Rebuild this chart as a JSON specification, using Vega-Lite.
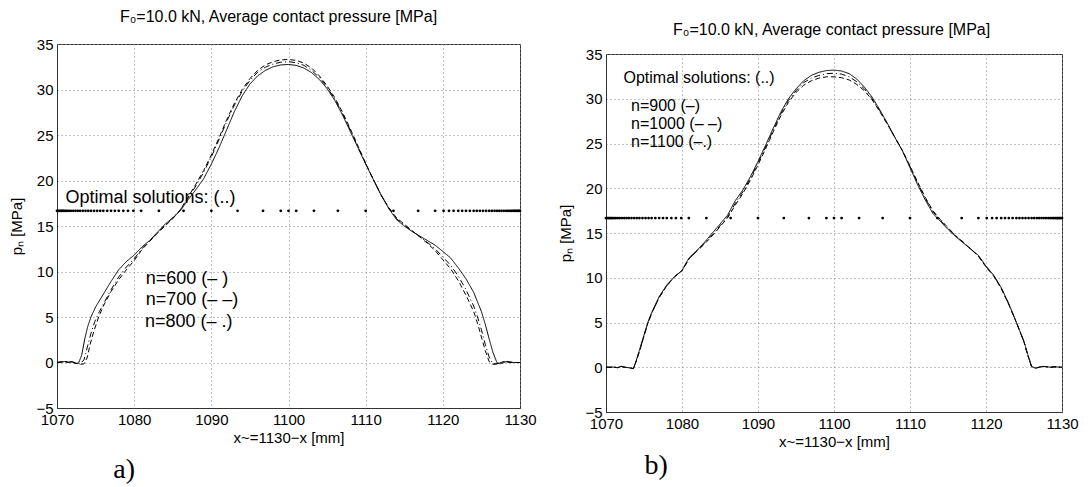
{
  "$schema": "https://vega.github.io/schema/vega-lite/v6.json",
  "background": "white",
  "padding": {"left": 9, "top": 8, "right": 5, "bottom": 5},
  "spacing": 21,
  "config": {
    "font": "Liberation Sans",
    "view": {"stroke": "#333", "strokeWidth": 1},
    "axis": {
      "labelFont": "Liberation Sans", "titleFont": "Liberation Sans",
      "labelFontSize": 15, "titleFontSize": 15, "titleFontWeight": "normal",
      "labelColor": "black", "titleColor": "black",
      "domainColor": "#333", "ticks": false, "labelPadding": 4,
      "grid": true, "gridColor": "#888", "gridDash": [1, 3], "gridWidth": 1
    },
    "title": {"font": "Liberation Sans", "fontSize": 16, "fontWeight": "normal", "color": "black"}
  },
  "datasets": {
    "a_lines": [
      {"n":"600","x":1070,"p":0},{"n":"600","x":1070.5,"p":0.05},{"n":"600","x":1071,"p":0.1},{"n":"600","x":1071.5,"p":0.05},{"n":"600","x":1072,"p":0.1},{"n":"600","x":1072.4,"p":-0.1},{"n":"600","x":1072.8,"p":-0.05},{"n":"600","x":1073.2,"p":0.8},{"n":"600","x":1073.6,"p":2.6},{"n":"600","x":1074,"p":4.0},{"n":"600","x":1074.4,"p":5.0},{"n":"600","x":1075,"p":6.1},{"n":"600","x":1076,"p":7.5},{"n":"600","x":1077,"p":8.9},{"n":"600","x":1078,"p":10.2},{"n":"600","x":1079,"p":11.1},{"n":"600","x":1080,"p":11.8},{"n":"600","x":1081,"p":12.7},{"n":"600","x":1082,"p":13.4},{"n":"600","x":1083,"p":14.3},{"n":"600","x":1084,"p":15.2},{"n":"600","x":1085,"p":15.9},{"n":"600","x":1086,"p":16.7},{"n":"600","x":1087,"p":17.9},{"n":"600","x":1088,"p":19.0},{"n":"600","x":1089,"p":20.2},{"n":"600","x":1090,"p":21.8},{"n":"600","x":1091,"p":23.6},{"n":"600","x":1092,"p":25.6},{"n":"600","x":1093,"p":27.6},{"n":"600","x":1094,"p":29.3},{"n":"600","x":1095,"p":30.6},{"n":"600","x":1096,"p":31.5},{"n":"600","x":1097,"p":32.1},{"n":"600","x":1098,"p":32.5},{"n":"600","x":1099,"p":32.7},{"n":"600","x":1100,"p":32.75},{"n":"600","x":1101,"p":32.65},{"n":"600","x":1102,"p":32.35},{"n":"600","x":1103,"p":31.85},{"n":"600","x":1104,"p":31.1},{"n":"600","x":1105,"p":30.1},{"n":"600","x":1106,"p":28.8},{"n":"600","x":1107,"p":27.2},{"n":"600","x":1108,"p":25.4},{"n":"600","x":1109,"p":23.6},{"n":"600","x":1110,"p":21.8},{"n":"600","x":1111,"p":20.1},{"n":"600","x":1112,"p":18.4},{"n":"600","x":1113,"p":16.9},{"n":"600","x":1114,"p":15.7},{"n":"600","x":1115,"p":15.0},{"n":"600","x":1116,"p":14.4},{"n":"600","x":1117,"p":13.9},{"n":"600","x":1118,"p":13.4},{"n":"600","x":1119,"p":12.9},{"n":"600","x":1120,"p":12.2},{"n":"600","x":1121,"p":11.5},{"n":"600","x":1122,"p":10.4},{"n":"600","x":1123,"p":9.2},{"n":"600","x":1124,"p":7.7},{"n":"600","x":1125,"p":5.6},{"n":"600","x":1125.5,"p":4.2},{"n":"600","x":1126,"p":2.6},{"n":"600","x":1126.5,"p":1.1},{"n":"600","x":1127,"p":0},{"n":"600","x":1127.4,"p":-0.15},{"n":"600","x":1127.8,"p":-0.05},{"n":"600","x":1128.2,"p":0.1},{"n":"600","x":1128.7,"p":0.05},{"n":"600","x":1129.2,"p":0},{"n":"600","x":1130,"p":0},
      {"n":"700","x":1070,"p":0},{"n":"700","x":1070.5,"p":0.05},{"n":"700","x":1071,"p":0.1},{"n":"700","x":1071.5,"p":0},{"n":"700","x":1072,"p":0.05},{"n":"700","x":1072.5,"p":-0.1},{"n":"700","x":1073,"p":-0.2},{"n":"700","x":1073.5,"p":-0.15},{"n":"700","x":1073.9,"p":0.5},{"n":"700","x":1074.3,"p":2.0},{"n":"700","x":1074.8,"p":3.5},{"n":"700","x":1075.4,"p":5.0},{"n":"700","x":1076,"p":6.2},{"n":"700","x":1077,"p":7.8},{"n":"700","x":1078,"p":9.1},{"n":"700","x":1079,"p":10.2},{"n":"700","x":1080,"p":11.2},{"n":"700","x":1081,"p":12.4},{"n":"700","x":1082,"p":13.3},{"n":"700","x":1083,"p":14.2},{"n":"700","x":1084,"p":15.0},{"n":"700","x":1085,"p":15.8},{"n":"700","x":1086,"p":16.8},{"n":"700","x":1087,"p":18.2},{"n":"700","x":1088,"p":19.6},{"n":"700","x":1089,"p":21.1},{"n":"700","x":1090,"p":22.8},{"n":"700","x":1091,"p":24.7},{"n":"700","x":1092,"p":26.7},{"n":"700","x":1093,"p":28.5},{"n":"700","x":1094,"p":30.0},{"n":"700","x":1095,"p":31.2},{"n":"700","x":1096,"p":32.1},{"n":"700","x":1097,"p":32.7},{"n":"700","x":1098,"p":33.05},{"n":"700","x":1099,"p":33.25},{"n":"700","x":1100,"p":33.3},{"n":"700","x":1101,"p":33.2},{"n":"700","x":1102,"p":32.9},{"n":"700","x":1103,"p":32.35},{"n":"700","x":1104,"p":31.5},{"n":"700","x":1105,"p":30.4},{"n":"700","x":1106,"p":29.1},{"n":"700","x":1107,"p":27.5},{"n":"700","x":1108,"p":25.7},{"n":"700","x":1109,"p":23.8},{"n":"700","x":1110,"p":21.9},{"n":"700","x":1111,"p":20.1},{"n":"700","x":1112,"p":18.4},{"n":"700","x":1113,"p":17.0},{"n":"700","x":1114,"p":15.9},{"n":"700","x":1115,"p":15.2},{"n":"700","x":1116,"p":14.5},{"n":"700","x":1117,"p":13.8},{"n":"700","x":1118,"p":13.1},{"n":"700","x":1119,"p":12.3},{"n":"700","x":1120,"p":11.3},{"n":"700","x":1121,"p":10.3},{"n":"700","x":1122,"p":9.0},{"n":"700","x":1123,"p":7.4},{"n":"700","x":1124,"p":5.6},{"n":"700","x":1124.5,"p":4.3},{"n":"700","x":1125,"p":2.8},{"n":"700","x":1125.5,"p":1.3},{"n":"700","x":1126,"p":0.1},{"n":"700","x":1126.5,"p":-0.2},{"n":"700","x":1127,"p":-0.15},{"n":"700","x":1127.5,"p":0},{"n":"700","x":1128,"p":0.1},{"n":"700","x":1128.5,"p":0.05},{"n":"700","x":1129,"p":0},{"n":"700","x":1130,"p":0},
      {"n":"800","x":1070,"p":0},{"n":"800","x":1070.5,"p":0.05},{"n":"800","x":1071,"p":0.1},{"n":"800","x":1071.5,"p":0.05},{"n":"800","x":1072,"p":0.05},{"n":"800","x":1072.5,"p":-0.1},{"n":"800","x":1073,"p":-0.15},{"n":"800","x":1073.5,"p":0.3},{"n":"800","x":1073.9,"p":1.6},{"n":"800","x":1074.4,"p":3.2},{"n":"800","x":1074.9,"p":4.5},{"n":"800","x":1075.5,"p":5.6},{"n":"800","x":1076,"p":6.4},{"n":"800","x":1077,"p":8.0},{"n":"800","x":1078,"p":9.4},{"n":"800","x":1079,"p":10.5},{"n":"800","x":1080,"p":11.4},{"n":"800","x":1081,"p":12.5},{"n":"800","x":1082,"p":13.4},{"n":"800","x":1083,"p":14.2},{"n":"800","x":1084,"p":15.1},{"n":"800","x":1085,"p":15.9},{"n":"800","x":1086,"p":16.8},{"n":"800","x":1087,"p":18.1},{"n":"800","x":1088,"p":19.4},{"n":"800","x":1089,"p":20.9},{"n":"800","x":1090,"p":22.6},{"n":"800","x":1091,"p":24.5},{"n":"800","x":1092,"p":26.5},{"n":"800","x":1093,"p":28.3},{"n":"800","x":1094,"p":29.8},{"n":"800","x":1095,"p":31.0},{"n":"800","x":1096,"p":31.9},{"n":"800","x":1097,"p":32.45},{"n":"800","x":1098,"p":32.8},{"n":"800","x":1099,"p":33.0},{"n":"800","x":1100,"p":33.05},{"n":"800","x":1101,"p":32.95},{"n":"800","x":1102,"p":32.65},{"n":"800","x":1103,"p":32.1},{"n":"800","x":1104,"p":31.3},{"n":"800","x":1105,"p":30.25},{"n":"800","x":1106,"p":28.95},{"n":"800","x":1107,"p":27.35},{"n":"800","x":1108,"p":25.55},{"n":"800","x":1109,"p":23.7},{"n":"800","x":1110,"p":21.85},{"n":"800","x":1111,"p":20.1},{"n":"800","x":1112,"p":18.4},{"n":"800","x":1113,"p":17.0},{"n":"800","x":1114,"p":15.8},{"n":"800","x":1115,"p":15.1},{"n":"800","x":1116,"p":14.45},{"n":"800","x":1117,"p":13.85},{"n":"800","x":1118,"p":13.2},{"n":"800","x":1119,"p":12.5},{"n":"800","x":1120,"p":11.6},{"n":"800","x":1121,"p":10.7},{"n":"800","x":1122,"p":9.5},{"n":"800","x":1123,"p":8.0},{"n":"800","x":1124,"p":6.2},{"n":"800","x":1124.5,"p":5.0},{"n":"800","x":1125,"p":3.6},{"n":"800","x":1125.5,"p":2.0},{"n":"800","x":1126,"p":0.6},{"n":"800","x":1126.5,"p":-0.15},{"n":"800","x":1127,"p":-0.15},{"n":"800","x":1127.5,"p":0},{"n":"800","x":1128,"p":0.1},{"n":"800","x":1128.5,"p":0.05},{"n":"800","x":1129,"p":0},{"n":"800","x":1130,"p":0}
    ],
    "b_lines": [
      {"n":"900","x":1070,"p":0},{"n":"900","x":1070.5,"p":0},{"n":"900","x":1071,"p":0.02},{"n":"900","x":1071.5,"p":-0.05},{"n":"900","x":1072,"p":0.1},{"n":"900","x":1072.5,"p":0},{"n":"900","x":1073,"p":-0.05},{"n":"900","x":1073.6,"p":-0.15},{"n":"900","x":1074,"p":0.8},{"n":"900","x":1074.5,"p":2.2},{"n":"900","x":1075,"p":3.6},{"n":"900","x":1075.5,"p":5.0},{"n":"900","x":1076,"p":6.1},{"n":"900","x":1077,"p":7.9},{"n":"900","x":1078,"p":9.2},{"n":"900","x":1079,"p":10.1},{"n":"900","x":1080,"p":10.8},{"n":"900","x":1080.5,"p":11.6},{"n":"900","x":1081,"p":12.3},{"n":"900","x":1082,"p":13.1},{"n":"900","x":1083,"p":14.0},{"n":"900","x":1084,"p":15.0},{"n":"900","x":1085,"p":16.0},{"n":"900","x":1086,"p":17.0},{"n":"900","x":1087,"p":18.6},{"n":"900","x":1088,"p":19.8},{"n":"900","x":1089,"p":21.3},{"n":"900","x":1090,"p":23.0},{"n":"900","x":1091,"p":24.8},{"n":"900","x":1092,"p":26.7},{"n":"900","x":1093,"p":28.5},{"n":"900","x":1094,"p":30.0},{"n":"900","x":1095,"p":31.1},{"n":"900","x":1096,"p":32.0},{"n":"900","x":1097,"p":32.6},{"n":"900","x":1098,"p":32.95},{"n":"900","x":1099,"p":33.15},{"n":"900","x":1100,"p":33.2},{"n":"900","x":1101,"p":33.1},{"n":"900","x":1102,"p":32.8},{"n":"900","x":1103,"p":32.2},{"n":"900","x":1104,"p":31.3},{"n":"900","x":1105,"p":30.2},{"n":"900","x":1106,"p":28.8},{"n":"900","x":1107,"p":27.3},{"n":"900","x":1108,"p":25.7},{"n":"900","x":1109,"p":24.2},{"n":"900","x":1110,"p":22.3},{"n":"900","x":1111,"p":20.4},{"n":"900","x":1112,"p":18.7},{"n":"900","x":1113,"p":17.2},{"n":"900","x":1114,"p":16.3},{"n":"900","x":1115,"p":15.4},{"n":"900","x":1116,"p":14.6},{"n":"900","x":1117,"p":13.9},{"n":"900","x":1118,"p":13.2},{"n":"900","x":1119,"p":12.5},{"n":"900","x":1120,"p":11.3},{"n":"900","x":1121,"p":10.3},{"n":"900","x":1122,"p":8.9},{"n":"900","x":1123,"p":7.1},{"n":"900","x":1124,"p":5.0},{"n":"900","x":1125,"p":2.9},{"n":"900","x":1125.5,"p":1.4},{"n":"900","x":1126,"p":0.1},{"n":"900","x":1126.5,"p":-0.1},{"n":"900","x":1127,"p":0},{"n":"900","x":1127.5,"p":0.1},{"n":"900","x":1128,"p":0.05},{"n":"900","x":1128.5,"p":0},{"n":"900","x":1129,"p":0.05},{"n":"900","x":1130,"p":0},
      {"n":"1000","x":1070,"p":0},{"n":"1000","x":1070.5,"p":0},{"n":"1000","x":1071,"p":0.02},{"n":"1000","x":1071.5,"p":-0.05},{"n":"1000","x":1072,"p":0.1},{"n":"1000","x":1072.5,"p":0},{"n":"1000","x":1073,"p":-0.05},{"n":"1000","x":1073.6,"p":-0.15},{"n":"1000","x":1074,"p":0.7},{"n":"1000","x":1074.5,"p":2.0},{"n":"1000","x":1075,"p":3.5},{"n":"1000","x":1075.5,"p":4.9},{"n":"1000","x":1076,"p":6.0},{"n":"1000","x":1077,"p":7.8},{"n":"1000","x":1078,"p":9.1},{"n":"1000","x":1079,"p":10.1},{"n":"1000","x":1080,"p":10.8},{"n":"1000","x":1080.5,"p":11.5},{"n":"1000","x":1081,"p":12.2},{"n":"1000","x":1082,"p":13.0},{"n":"1000","x":1083,"p":13.8},{"n":"1000","x":1084,"p":14.7},{"n":"1000","x":1085,"p":15.7},{"n":"1000","x":1086,"p":16.7},{"n":"1000","x":1087,"p":18.1},{"n":"1000","x":1088,"p":19.4},{"n":"1000","x":1089,"p":20.9},{"n":"1000","x":1090,"p":22.6},{"n":"1000","x":1091,"p":24.4},{"n":"1000","x":1092,"p":26.3},{"n":"1000","x":1093,"p":28.1},{"n":"1000","x":1094,"p":29.6},{"n":"1000","x":1095,"p":30.7},{"n":"1000","x":1096,"p":31.5},{"n":"1000","x":1097,"p":32.0},{"n":"1000","x":1098,"p":32.3},{"n":"1000","x":1099,"p":32.45},{"n":"1000","x":1100,"p":32.45},{"n":"1000","x":1101,"p":32.35},{"n":"1000","x":1102,"p":32.1},{"n":"1000","x":1103,"p":31.6},{"n":"1000","x":1104,"p":30.9},{"n":"1000","x":1105,"p":29.9},{"n":"1000","x":1106,"p":28.6},{"n":"1000","x":1107,"p":27.2},{"n":"1000","x":1108,"p":25.7},{"n":"1000","x":1109,"p":24.2},{"n":"1000","x":1110,"p":22.5},{"n":"1000","x":1111,"p":20.7},{"n":"1000","x":1112,"p":19.0},{"n":"1000","x":1113,"p":17.5},{"n":"1000","x":1114,"p":16.5},{"n":"1000","x":1115,"p":15.6},{"n":"1000","x":1116,"p":14.7},{"n":"1000","x":1117,"p":14.0},{"n":"1000","x":1118,"p":13.2},{"n":"1000","x":1119,"p":12.4},{"n":"1000","x":1120,"p":11.2},{"n":"1000","x":1121,"p":10.2},{"n":"1000","x":1122,"p":8.8},{"n":"1000","x":1123,"p":7.0},{"n":"1000","x":1124,"p":5.0},{"n":"1000","x":1125,"p":2.8},{"n":"1000","x":1125.5,"p":1.3},{"n":"1000","x":1126,"p":0.05},{"n":"1000","x":1126.5,"p":-0.1},{"n":"1000","x":1127,"p":0},{"n":"1000","x":1127.5,"p":0.1},{"n":"1000","x":1128,"p":0.05},{"n":"1000","x":1128.5,"p":0},{"n":"1000","x":1129,"p":0.05},{"n":"1000","x":1130,"p":0},
      {"n":"1100","x":1070,"p":0},{"n":"1100","x":1070.5,"p":0},{"n":"1100","x":1071,"p":0.02},{"n":"1100","x":1071.5,"p":-0.05},{"n":"1100","x":1072,"p":0.1},{"n":"1100","x":1072.5,"p":0},{"n":"1100","x":1073,"p":-0.05},{"n":"1100","x":1073.6,"p":-0.15},{"n":"1100","x":1074,"p":0.75},{"n":"1100","x":1074.5,"p":2.1},{"n":"1100","x":1075,"p":3.5},{"n":"1100","x":1075.5,"p":4.9},{"n":"1100","x":1076,"p":6.0},{"n":"1100","x":1077,"p":7.8},{"n":"1100","x":1078,"p":9.1},{"n":"1100","x":1079,"p":10.1},{"n":"1100","x":1080,"p":10.8},{"n":"1100","x":1080.5,"p":11.5},{"n":"1100","x":1081,"p":12.2},{"n":"1100","x":1082,"p":13.0},{"n":"1100","x":1083,"p":13.9},{"n":"1100","x":1084,"p":14.8},{"n":"1100","x":1085,"p":15.8},{"n":"1100","x":1086,"p":16.8},{"n":"1100","x":1087,"p":18.3},{"n":"1100","x":1088,"p":19.6},{"n":"1100","x":1089,"p":21.1},{"n":"1100","x":1090,"p":22.8},{"n":"1100","x":1091,"p":24.6},{"n":"1100","x":1092,"p":26.5},{"n":"1100","x":1093,"p":28.3},{"n":"1100","x":1094,"p":29.8},{"n":"1100","x":1095,"p":30.9},{"n":"1100","x":1096,"p":31.8},{"n":"1100","x":1097,"p":32.3},{"n":"1100","x":1098,"p":32.6},{"n":"1100","x":1099,"p":32.8},{"n":"1100","x":1100,"p":32.85},{"n":"1100","x":1101,"p":32.75},{"n":"1100","x":1102,"p":32.45},{"n":"1100","x":1103,"p":31.9},{"n":"1100","x":1104,"p":31.1},{"n":"1100","x":1105,"p":30.0},{"n":"1100","x":1106,"p":28.7},{"n":"1100","x":1107,"p":27.2},{"n":"1100","x":1108,"p":25.7},{"n":"1100","x":1109,"p":24.2},{"n":"1100","x":1110,"p":22.4},{"n":"1100","x":1111,"p":20.6},{"n":"1100","x":1112,"p":18.9},{"n":"1100","x":1113,"p":17.4},{"n":"1100","x":1114,"p":16.4},{"n":"1100","x":1115,"p":15.5},{"n":"1100","x":1116,"p":14.7},{"n":"1100","x":1117,"p":13.95},{"n":"1100","x":1118,"p":13.2},{"n":"1100","x":1119,"p":12.45},{"n":"1100","x":1120,"p":11.25},{"n":"1100","x":1121,"p":10.25},{"n":"1100","x":1122,"p":8.85},{"n":"1100","x":1123,"p":7.05},{"n":"1100","x":1124,"p":5.0},{"n":"1100","x":1125,"p":2.85},{"n":"1100","x":1125.5,"p":1.35},{"n":"1100","x":1126,"p":0.05},{"n":"1100","x":1126.5,"p":-0.1},{"n":"1100","x":1127,"p":0},{"n":"1100","x":1127.5,"p":0.1},{"n":"1100","x":1128,"p":0.05},{"n":"1100","x":1128.5,"p":0},{"n":"1100","x":1129,"p":0.05},{"n":"1100","x":1130,"p":0}
    ],
    "dots": [
      {"x":1070,"p":16.67},{"x":1070.15,"p":16.67},{"x":1070.3,"p":16.67},{"x":1070.45,"p":16.67},{"x":1070.6,"p":16.67},{"x":1070.75,"p":16.67},{"x":1070.9,"p":16.67},{"x":1071.1,"p":16.67},{"x":1071.3,"p":16.67},{"x":1071.55,"p":16.67},{"x":1071.8,"p":16.67},{"x":1072.1,"p":16.67},{"x":1072.4,"p":16.67},{"x":1072.7,"p":16.67},{"x":1073.0,"p":16.67},{"x":1073.35,"p":16.67},{"x":1073.7,"p":16.67},{"x":1074.05,"p":16.67},{"x":1074.4,"p":16.67},{"x":1074.8,"p":16.67},{"x":1075.2,"p":16.67},{"x":1075.6,"p":16.67},{"x":1076.0,"p":16.67},{"x":1076.5,"p":16.67},{"x":1077.0,"p":16.67},{"x":1077.5,"p":16.67},{"x":1078.0,"p":16.67},{"x":1078.6,"p":16.67},{"x":1079.2,"p":16.67},{"x":1079.9,"p":16.67},{"x":1080.9,"p":16.67},{"x":1083.2,"p":16.67},{"x":1086.4,"p":16.67},{"x":1090.0,"p":16.67},{"x":1093.4,"p":16.67},{"x":1096.7,"p":16.67},{"x":1099.0,"p":16.67},{"x":1100.0,"p":16.67},{"x":1101.0,"p":16.67},{"x":1103.3,"p":16.67},{"x":1106.4,"p":16.67},{"x":1110.0,"p":16.67},{"x":1113.6,"p":16.67},{"x":1116.8,"p":16.67},{"x":1119.0,"p":16.67},{"x":1120.1,"p":16.67},{"x":1120.8,"p":16.67},{"x":1121.4,"p":16.67},{"x":1122.0,"p":16.67},{"x":1122.5,"p":16.67},{"x":1123.0,"p":16.67},{"x":1123.5,"p":16.67},{"x":1124.0,"p":16.67},{"x":1124.4,"p":16.67},{"x":1124.8,"p":16.67},{"x":1125.2,"p":16.67},{"x":1125.6,"p":16.67},{"x":1126.0,"p":16.67},{"x":1126.35,"p":16.67},{"x":1126.7,"p":16.67},{"x":1127.0,"p":16.67},{"x":1127.3,"p":16.67},{"x":1127.6,"p":16.67},{"x":1127.9,"p":16.67},{"x":1128.2,"p":16.67},{"x":1128.45,"p":16.67},{"x":1128.7,"p":16.67},{"x":1128.9,"p":16.67},{"x":1129.1,"p":16.67},{"x":1129.25,"p":16.67},{"x":1129.4,"p":16.67},{"x":1129.55,"p":16.67},{"x":1129.7,"p":16.67},{"x":1129.85,"p":16.67},{"x":1130,"p":16.67}
    ],
    "a_text": [
      {"label":"Optimal solutions:  (..)","x":1071.1,"p":18.1},
      {"label":"n=600 (– )","x":1081.5,"p":9.13},
      {"label":"n=700 (– –)","x":1081.5,"p":6.85},
      {"label":"n=800 (– .)","x":1081.4,"p":4.5}
    ],
    "b_text": [
      {"label":"Optimal solutions:  (..)","x":1072.3,"p":32.35},
      {"label":"n=900 (–)","x":1073.3,"p":29.15},
      {"label":"n=1000 (– –)","x":1073.3,"p":27.15},
      {"label":"n=1100 (–.)","x":1073.3,"p":25.15}
    ],
    "a_tag": [{"label":"a)","x":1078.7,"p":-11.8}],
    "b_tag": [{"label":"b)","x":1076.6,"p":-11.0}],
    "empty": []
  },
  "hconcat": [
    {
      "width": 463, "height": 364,
      "title": {"text": "F₀=10.0 kN, Average contact pressure [MPa]", "offset": 12, "dx": -10},
      "encoding": {
        "x": {"field": "x", "type": "quantitative", "scale": {"domain": [1070, 1130], "nice": false, "zero": false},
              "axis": {"values": [1070,1080,1090,1100,1110,1120,1130], "format": "d", "title": "x~=1130−x [mm]", "labelFlush": false, "titlePadding": 3}},
        "y": {"field": "p", "type": "quantitative", "scale": {"domain": [-5, 35], "nice": false, "zero": false},
              "axis": {"values": [-5,0,5,10,15,20,25,30,35], "format": "d", "title": "pₙ [MPa]", "titlePadding": 11}}
      },
      "layer": [
        {"data": {"name": "a_lines"}, "mark": {"type": "line", "color": "black", "strokeWidth": 1},
         "encoding": {"detail": {"field": "n"}, "strokeDash": {"field": "n", "type": "nominal", "scale": {"domain": ["600","700","800"], "range": [[1,0],[5,3],[6,3,1,3]]}, "legend": null}}},
        {"data": {"name": "dots"}, "mark": {"type": "point", "filled": true, "size": 8, "color": "black", "opacity": 1}},
        {"data": {"name": "a_text"}, "mark": {"type": "text", "align": "left", "baseline": "middle", "fontSize": 18, "color": "black"},
         "encoding": {"text": {"field": "label"}}},
        {"data": {"name": "a_tag"}, "mark": {"type": "text", "align": "center", "baseline": "middle", "fontSize": 28, "font": "Liberation Serif", "color": "black"},
         "encoding": {"text": {"field": "label"}}}
      ]
    },
    {
      "title": {"text": "F₀=10.0 kN, Average contact pressure [MPa]", "offset": 6, "frame": "group", "anchor": "start", "dx": 67},
      "spacing": 0,
      "vconcat": [
        {"width": 456, "height": 2, "data": {"name": "empty"}, "mark": "point", "view": {"stroke": null}},
        {
          "width": 456, "height": 358,
          "encoding": {
            "x": {"field": "x", "type": "quantitative", "scale": {"domain": [1070, 1130], "nice": false, "zero": false},
                  "axis": {"values": [1070,1080,1090,1100,1110,1120,1130], "format": "d", "title": "x~=1130−x [mm]", "labelFlush": false, "titlePadding": 3}},
            "y": {"field": "p", "type": "quantitative", "scale": {"domain": [-5, 35], "nice": false, "zero": false},
                  "axis": {"values": [-5,0,5,10,15,20,25,30,35], "format": "d", "title": "pₙ [MPa]", "titlePadding": 11}}
          },
          "layer": [
            {"data": {"name": "b_lines"}, "mark": {"type": "line", "color": "black", "strokeWidth": 1},
             "encoding": {"detail": {"field": "n"}, "strokeDash": {"field": "n", "type": "nominal", "scale": {"domain": ["900","1000","1100"], "range": [[1,0],[5,3],[6,3,1,3]]}, "legend": null}}},
            {"data": {"name": "dots"}, "mark": {"type": "point", "filled": true, "size": 8, "color": "black", "opacity": 1}},
            {"data": {"name": "b_text"}, "mark": {"type": "text", "align": "left", "baseline": "middle", "fontSize": 16, "color": "black"},
             "encoding": {"text": {"field": "label"}}},
            {"data": {"name": "b_tag"}, "mark": {"type": "text", "align": "center", "baseline": "middle", "fontSize": 28, "font": "Liberation Serif", "color": "black"},
             "encoding": {"text": {"field": "label"}}}
          ]
        }
      ]
    }
  ]
}
